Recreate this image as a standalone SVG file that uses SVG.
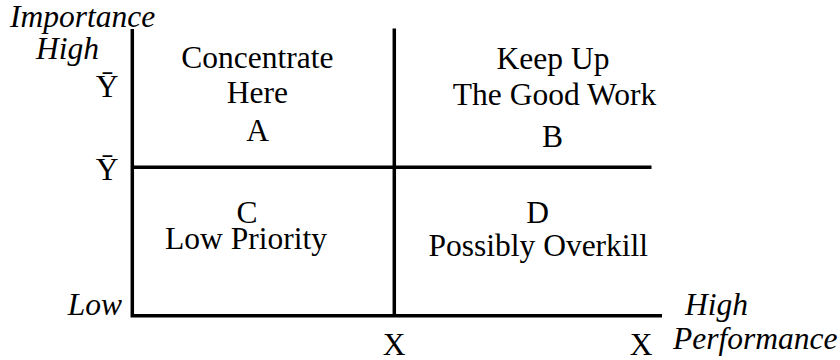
<svg xmlns="http://www.w3.org/2000/svg" width="840" height="360" viewBox="0 0 840 360">
<style>
text{font-family:"Liberation Serif","Times New Roman",serif;font-size:31.5px;fill:#000}
.c{text-anchor:middle}
.i{font-style:italic}
.ax{fill:none;stroke:#000;stroke-width:3.5;stroke-linejoin:miter}
</style>
<rect width="840" height="360" fill="#fff"/>
<g id="axes" class="connectors">
<path class="ax" d="M132.3,29 V315.8 H662"/>
<path class="ax" d="M394.3,28.5 V315.8"/>
<path class="ax" d="M132.3,167.3 H651.5"/>
</g>
<g id="axis-labels">
<text class="i" x="10" y="27">Importance</text>
<text class="i c" x="67.5" y="58.5">High</text>
<text class="c" x="107" y="96.7">Ȳ</text>
<text class="c" x="107" y="180">Ȳ</text>
<text class="i" x="122" y="314.5" text-anchor="end">Low</text>
<text class="i" x="685" y="315">High</text>
<text class="i" x="673" y="349.3">Performance</text>
<text class="c" x="394" y="355">X</text>
<text class="c" x="641" y="355">X</text>
</g>
<g id="quadrant-A">
<text class="c" x="257.3" y="67.7">Concentrate</text>
<text class="c" x="257.3" y="103.3">Here</text>
<text class="c" x="257.5" y="141">A</text>
</g>
<g id="quadrant-B">
<text class="c" x="553" y="69">Keep Up</text>
<text class="c" x="554.5" y="105">The Good Work</text>
<text class="c" x="552.5" y="147">B</text>
</g>
<g id="quadrant-C">
<text class="c" x="247" y="222.7">C</text>
<text class="c" x="246" y="249.3">Low Priority</text>
</g>
<g id="quadrant-D">
<text class="c" x="537.5" y="222.7">D</text>
<text class="c" x="538.3" y="256">Possibly Overkill</text>
</g>
</svg>
